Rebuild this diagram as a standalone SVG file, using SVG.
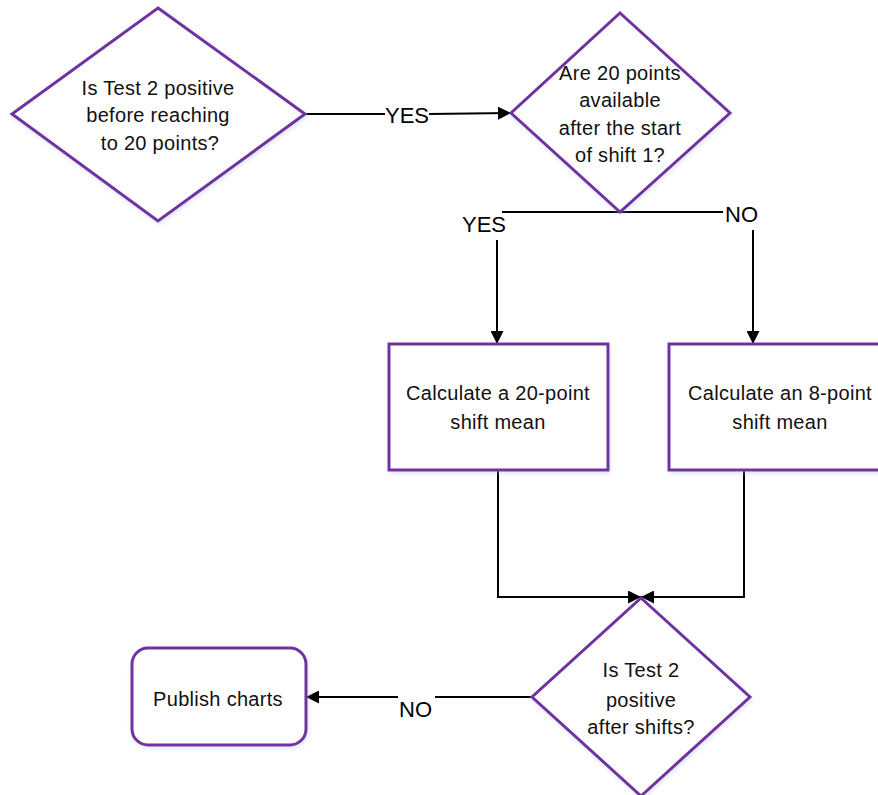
<svg xmlns="http://www.w3.org/2000/svg" width="878" height="795" viewBox="0 0 878 795">
  <style>
    .shape { fill: #ffffff; stroke: #7030a0; stroke-width: 3; filter: url(#halo); }
    .txt { font-family: "Liberation Sans", Arial, sans-serif; font-size: 20px; letter-spacing: 0.3px; fill: #111111; text-anchor: middle; }
    .lbl { font-family: "Liberation Sans", Arial, sans-serif; font-size: 22px; fill: #000000; }
    .conn { fill: none; stroke: #000000; stroke-width: 2; }
  </style>
  <defs>
    <filter id="halo" x="-10%" y="-10%" width="120%" height="120%">
      <feDropShadow dx="1" dy="2" stdDeviation="2" flood-color="#9fb4d8" flood-opacity="0.35"/>
    </filter>
    <marker id="arrow" viewBox="0 0 13 13" refX="13" refY="6.5" markerWidth="13" markerHeight="13" markerUnits="userSpaceOnUse" orient="auto">
      <path d="M0,0 L13,6.5 L0,13 Z" fill="#000000"/>
    </marker>
  </defs>

  <!-- connectors -->
  <g id="connectors">
    <path class="conn" d="M305,114 H385"/>
    <path class="conn" d="M429,114 L511,113" marker-end="url(#arrow)"/>
    <path class="conn" d="M620,212 H502"/>
    <path class="conn" d="M497,240 V344" marker-end="url(#arrow)"/>
    <path class="conn" d="M620,212 H723"/>
    <path class="conn" d="M753,230 V344" marker-end="url(#arrow)"/>
    <path class="conn" d="M498,470 V597 H641" marker-end="url(#arrow)"/>
    <path class="conn" d="M744,470 V597 H641" marker-end="url(#arrow)"/>
    <path class="conn" d="M532,697 H435"/>
    <path class="conn" d="M398,697 H306" marker-end="url(#arrow)"/>
    <text class="lbl" x="385" y="123">YES</text>
    <text class="lbl" x="462" y="232">YES</text>
    <text class="lbl" x="725" y="222">NO</text>
    <text class="lbl" x="399" y="717">NO</text>
  </g>

  <g id="decision-test2-before">
    <polygon class="shape" points="158,8 305,114 158,221 12,114"/>
    <text class="txt" x="158" y="95">Is Test 2 positive</text>
    <text class="txt" x="158" y="122">before reaching</text>
    <text class="txt" x="160" y="150">to 20 points?</text>
  </g>

  <g id="decision-20-points">
    <polygon class="shape" points="620,13 730,113 620,212 511,113"/>
    <text class="txt" x="620" y="80">Are 20 points</text>
    <text class="txt" x="620" y="107">available</text>
    <text class="txt" x="620" y="135">after the start</text>
    <text class="txt" x="620" y="162">of shift 1?</text>
  </g>

  <g id="calc-20-point">
    <rect class="shape" x="389" y="344" width="219" height="126"/>
    <text class="txt" x="498" y="400">Calculate a 20-point</text>
    <text class="txt" x="498" y="429">shift mean</text>
  </g>

  <g id="calc-8-point">
    <rect class="shape" x="669" y="344" width="222" height="126"/>
    <text class="txt" x="780" y="400">Calculate an 8-point</text>
    <text class="txt" x="780" y="429">shift mean</text>
  </g>

  <g id="decision-test2-after">
    <polygon class="shape" points="641,598 750,697 641,796 532,697"/>
    <text class="txt" x="641" y="677">Is Test 2</text>
    <text class="txt" x="641" y="707">positive</text>
    <text class="txt" x="641" y="734">after shifts?</text>
  </g>

  <g id="publish-charts">
    <rect class="shape" x="132" y="648" width="174" height="97" rx="16" ry="16"/>
    <text class="txt" x="218" y="706">Publish charts</text>
  </g>
</svg>
